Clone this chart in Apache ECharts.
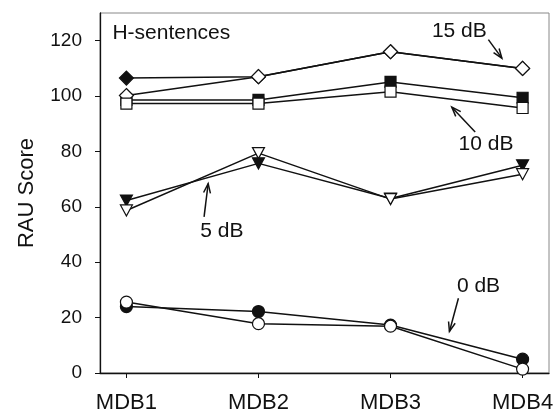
<!DOCTYPE html>
<html><head><meta charset="utf-8">
<script src="https://cdn.jsdelivr.net/npm/echarts@6/dist/echarts.min.js"></script>
<style>html,body{margin:0;padding:0;background:#fff}#c{width:556px;height:410px}</style>
</head><body><div id="c"></div>
<script>
const categories = ['MDB1', 'MDB2', 'MDB3', 'MDB4'];
const yTicks = [0, 20, 40, 60, 80, 100, 120];
const db15Filled = [106.5, 107.0, 116.0, 110.0];
const db15Open   = [100.2, 107.0, 116.0, 110.0];
const db10Filled = [98.6, 98.6, 105.1, 99.4];
const db10Open   = [97.3, 97.3, 101.6, 95.7];
const db5Filled  = [62.3, 75.7, 63.0, 75.0];
const db5Open    = [58.7, 79.4, 62.8, 71.8];
const db0Filled  = [24.0, 22.2, 17.3, 5.0];
const db0Open    = [25.6, 17.8, 16.9, 1.4];
// annotation texts and arrows in data coordinates [x, y]
const labels = [
  {text: 'H-sentences', at: [0.894, 122.6], align: 'left'},
  {text: '15 dB', at: [3.521, 123.5], align: 'center'},
  {text: '10 dB', at: [3.723, 82.5], align: 'center'},
  {text: '5 dB', at: [1.723, 51.3], align: 'center'},
  {text: '0 dB', at: [3.666, 31.4], align: 'center'}
];
const arrows = [
  {from: [3.741, 120.4], to: [3.843, 113.7]},
  {from: [3.641, 87.0], to: [3.464, 96.0]},
  {from: [1.588, 56.4], to: [1.619, 68.4]},
  {from: [3.514, 27.0], to: [3.446, 15.0]}
];

const FONT = 'Liberation Sans, Arial, sans-serif';
const chart = echarts.init(document.getElementById('c'), null, {renderer: 'canvas'});
const xs = [1, 2, 3, 4];
function pts(vals){ return vals.map((v, i) => [xs[i], v]); }
function mk(name, vals, symbol, size, filled, rotate){
  return {
    name, type: 'line', data: pts(vals), symbol, symbolSize: size,
    symbolRotate: rotate || 0, showAllSymbol: true,
    lineStyle: {color: '#111', width: 1.5},
    itemStyle: {color: filled ? '#111' : '#fff', borderColor: '#111', borderWidth: 1.2},
    z: filled ? 2 : 3, animation: false
  };
}
chart.setOption({
  animation: false,
  grid: {left: 100, right: 7, top: 13, bottom: 37, show: true, borderColor: '#888', borderWidth: 1,
    containLabel: false, outerBoundsMode: 'none'},
  xAxis: {
    type: 'value', min: 0.8, max: 4.2,
    axisLine: {show: true, lineStyle: {color: '#111', width: 1.3}},
    axisTick: {show: true, customValues: xs, length: 5, lineStyle: {color: '#111'}},
    axisLabel: {customValues: xs, formatter: v => categories[Math.round(v) - 1] || '',
      fontSize: 22, fontFamily: FONT, color: '#111', margin: 19},
    splitLine: {show: false}
  },
  yAxis: {
    type: 'value', min: 0, max: 130,
    name: 'RAU Score', nameLocation: 'middle', nameGap: 62,
    nameTextStyle: {fontSize: 22, fontFamily: FONT, color: '#111'},
    axisLine: {show: true, lineStyle: {color: '#111', width: 1.3}},
    axisTick: {show: true, customValues: yTicks, length: 5, lineStyle: {color: '#111'}},
    axisLabel: {customValues: yTicks, fontSize: 19, fontFamily: FONT, color: '#111', margin: 18},
    splitLine: {show: false}
  },
  series: [
    mk('15 dB filled', db15Filled, 'diamond', 14, true),
    mk('10 dB filled', db10Filled, 'rect', 11, true),
    mk('5 dB filled', db5Filled, 'triangle', [12, 11], true, 180),
    mk('0 dB filled', db0Filled, 'circle', 12, true),
    mk('15 dB open', db15Open, 'diamond', 14, false),
    mk('10 dB open', db10Open, 'rect', 11, false),
    mk('5 dB open', db5Open, 'triangle', [12, 11], false, 180),
    mk('0 dB open', db0Open, 'circle', 12, false)
  ]
});

function px(p){ return chart.convertToPixel({gridIndex: 0}, p); }
const graphics = [];
labels.forEach(l => {
  const p = px(l.at);
  graphics.push({type: 'text', x: p[0], y: p[1], z: 10,
    style: {text: l.text, fontSize: 21, fontFamily: FONT, fill: '#111',
      align: l.align, verticalAlign: 'middle'}});
});
arrows.forEach(a => {
  const p0 = px(a.from), p1 = px(a.to);
  const ang = Math.atan2(p1[1] - p0[1], p1[0] - p0[0]);
  const L = 10, w = 0.35;
  const h1 = [p1[0] - L * Math.cos(ang - w), p1[1] - L * Math.sin(ang - w)];
  const h2 = [p1[0] - L * Math.cos(ang + w), p1[1] - L * Math.sin(ang + w)];
  graphics.push({type: 'line', z: 10, shape: {x1: p0[0], y1: p0[1], x2: p1[0], y2: p1[1]},
    style: {stroke: '#111', lineWidth: 1.5}});
  graphics.push({type: 'polyline', z: 10, shape: {points: [h1, p1, h2]},
    style: {stroke: '#111', lineWidth: 1.5, fill: null}});
});
chart.setOption({graphic: graphics});
</script></body></html>
